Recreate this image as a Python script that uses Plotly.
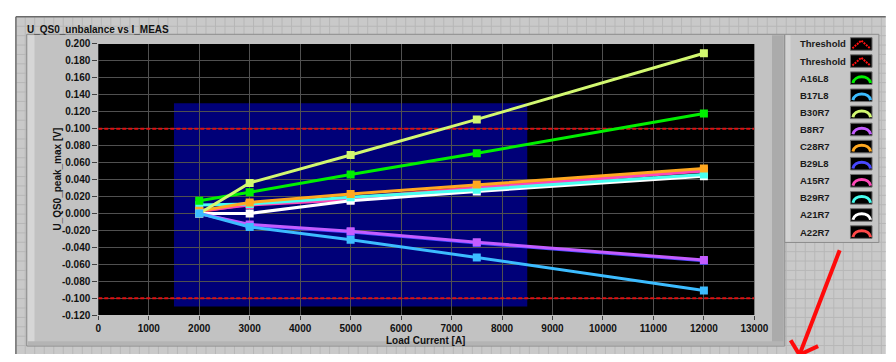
import plotly.graph_objects as go

# page is 896x362; body keeps its default 8px margin, so the figure is 880x346
OFF = 8
W, H = 896 - 2 * OFF, 362 - 2 * OFF

# ---------------- data ----------------
load_current = [2000, 3000, 5000, 7500, 12000]
series_names = ["A16L8", "B17L8", "B30R7", "B8R7", "C28R7", "B29L8", "A15R7", "B29R7", "A21R7", "A22R7"]
A16L8 = [0.015, 0.025, 0.046, 0.071, 0.118]
B17L8 = [0.000, -0.016, -0.031, -0.052, -0.091]
B30R7 = [0.000, 0.036, 0.069, 0.111, 0.189]
B8R7 = [0.000, -0.013, -0.021, -0.034, -0.055]
C28R7 = [0.003, 0.013, 0.023, 0.034, 0.053]
B29L8 = [0.000, -0.014, -0.022, -0.035, -0.056]
A15R7 = [0.003, 0.010, 0.016, 0.030, 0.050]
B29R7 = [0.010, 0.011, 0.019, 0.028, 0.046]
A21R7 = [0.000, 0.000, 0.015, 0.026, 0.044]
A22R7 = [0.002, 0.011, 0.018, 0.031, 0.051]
threshold_x = [0, 13000]
threshold_hi = [0.100, 0.100]
threshold_lo = [-0.100, -0.100]
window_x = [1500, 8500]
window_y = [-0.110, 0.130]
x_ticks = list(range(0, 13001, 1000))
y_ticks = [round(-0.12 + 0.02 * i, 3) for i in range(17)]

values = {"A16L8": A16L8, "B17L8": B17L8, "B30R7": B30R7, "B8R7": B8R7, "C28R7": C28R7,
          "B29L8": B29L8, "A15R7": A15R7, "B29R7": B29R7, "A21R7": A21R7, "A22R7": A22R7}
colors = {"A16L8": "#00f000", "B17L8": "#3cbcff", "B30R7": "#d2f870", "B8R7": "#c45cff",
          "C28R7": "#ffa820", "B29L8": "#4848ff", "A15R7": "#ff48b8", "B29R7": "#48fff0",
          "A21R7": "#ffffff", "A22R7": "#ff4848"}
draw_order = ["A22R7", "B29L8", "A15R7", "A21R7", "B29R7", "C28R7", "B8R7", "A16L8", "B30R7", "B17L8"]

def px(x):
    return (x - OFF) / W

def py(y):
    return 1 - (y - OFF) / H

FONT = "Liberation Sans"
fig = go.Figure()

for name in ["hi", "lo"]:
    fig.add_trace(go.Scatter(x=threshold_x, y=threshold_hi if name == "hi" else threshold_lo,
                             mode="lines", line=dict(color="#e01010", width=2, dash="4px,2px"),
                             showlegend=False, hoverinfo="skip"))

for name in draw_order:
    fig.add_trace(go.Scatter(x=load_current, y=values[name], mode="lines+markers", name=name,
                             line=dict(color=colors[name], width=3),
                             marker=dict(symbol="square", size=8, color=colors[name]),
                             showlegend=False))

shapes = []
# panel background with pattern
shapes.append(dict(type="rect", xref="paper", yref="paper", x0=px(13), x1=px(900), y0=py(366), y1=py(12),
                   fillcolor="#c9c9c9", line=dict(width=0), layer="below"))
gx = 3.1
while gx < 900:
    if gx > 14:
        shapes.append(dict(type="line", xref="paper", yref="paper", x0=px(gx), x1=px(gx), y0=py(366), y1=py(12.5),
                           line=dict(color="#b7b7b7", width=1), layer="below"))
    gx += 9.7
gy = 21.7
while gy < 366:
    shapes.append(dict(type="line", xref="paper", yref="paper", x0=px(13.5), x1=px(900), y0=py(gy), y1=py(gy),
                       line=dict(color="#b7b7b7", width=1), layer="below"))
    gy += 9.7
shapes.append(dict(type="line", xref="paper", yref="paper", x0=px(13), x1=px(900), y0=py(12), y1=py(12),
                   line=dict(color="#6a6a6a", width=1.5), layer="below"))
shapes.append(dict(type="line", xref="paper", yref="paper", x0=px(13), x1=px(13), y0=py(12), y1=py(366),
                   line=dict(color="#6a6a6a", width=1.5), layer="below"))
# graph frame
shapes.append(dict(type="rect", xref="paper", yref="paper", x0=px(24), x1=px(797), y0=py(352), y1=py(30),
                   fillcolor="#c2c2c2", line=dict(color="#8c8c8c", width=1), layer="below"))
shapes.append(dict(type="rect", xref="paper", yref="paper", x0=px(25), x1=px(32), y0=py(351), y1=py(31),
                   fillcolor="#d6d6d6", line=dict(width=0), layer="below"))
shapes.append(dict(type="rect", xref="paper", yref="paper", x0=px(784), x1=px(796), y0=py(351), y1=py(31),
                   fillcolor="#ababab", line=dict(width=0), layer="below"))
shapes.append(dict(type="rect", xref="paper", yref="paper", x0=px(25), x1=px(796), y0=py(351), y1=py(347),
                   fillcolor="#b4b4b4", line=dict(width=0), layer="below"))
# legend box
shapes.append(dict(type="rect", xref="paper", yref="paper", x0=px(797), x1=px(893), y0=py(245), y1=py(30),
                   fillcolor="#c6c6c6", line=dict(color="#8c8c8c", width=1), layer="below"))
shapes.append(dict(type="rect", xref="paper", yref="paper", x0=px(798), x1=px(803), y0=py(244), y1=py(31),
                   fillcolor="#d4d4d4", line=dict(width=0), layer="below"))
# plot background and window
shapes.append(dict(type="rect", xref="x domain", yref="y domain", x0=0, x1=1, y0=0, y1=1,
                   fillcolor="#000000", line=dict(width=0), layer="below"))
shapes.append(dict(type="rect", xref="x", yref="y", x0=window_x[0], x1=window_x[1], y0=window_y[0], y1=window_y[1],
                   fillcolor="#000078", line=dict(width=0), layer="below"))

# custom legend
annotations = []
legend_entries = ["Threshold", "Threshold"] + series_names
for i, name in enumerate(legend_entries):
    cy = 40 + i * 17.66
    annotations.append(dict(x=px(810), y=py(cy), xref="paper", yref="paper", text=name, showarrow=False,
                            xanchor="left", yanchor="middle",
                            font=dict(family=FONT, size=9.5, color="#1a1a1a", weight="bold")))
    shapes.append(dict(type="rect", xref="paper", yref="paper", x0=px(864), x1=px(886), y0=py(cy + 6.5), y1=py(cy - 6.5),
                       fillcolor="#000000", line=dict(color="#6c6c6c", width=1), layer="above"))
    if name == "Threshold":
        path = "M {} {} L {} {} L {} {}".format(px(866), py(cy + 4.5), px(875), py(cy - 3.5), px(884), py(cy + 4.5))
        shapes.append(dict(type="path", xref="paper", yref="paper", path=path,
                           line=dict(color="#ff1010", width=2, dash="2px,1px"), layer="above"))
    else:
        path = "M {} {} C {} {} {} {} {} {}".format(px(866.5), py(cy + 5), px(868), py(cy - 3.5),
                                                    px(883), py(cy - 3.5), px(884.5), py(cy + 5))
        shapes.append(dict(type="path", xref="paper", yref="paper", path=path,
                           line=dict(color=colors[name], width=3), layer="above"))

# red arrow
for (x0, y0, x1, y1) in [(853, 253, 812, 361), (812, 361, 803, 346), (812, 361, 831, 352)]:
    shapes.append(dict(type="line", xref="paper", yref="paper", x0=px(x0), y0=py(y0), x1=px(x1), y1=py(y1),
                       line=dict(color="#ff0a0a", width=4), layer="above"))

annotations.append(dict(x=px(22), y=py(25), xref="paper", yref="paper", text="U_QS0_unbalance vs I_MEAS",
                        showarrow=False, xanchor="left", yanchor="middle",
                        font=dict(family=FONT, size=10, color="#111111", weight="bold")))
annotations.append(dict(x=px(431), y=py(346), xref="paper", yref="paper", text="Load Current [A]",
                        showarrow=False, xanchor="center", yanchor="middle",
                        font=dict(family=FONT, size=10, color="#111111", weight="bold")))
annotations.append(dict(x=px(55), y=py(180), xref="paper", yref="paper", text="U_QS0_peak_max [V]",
                        showarrow=False, xanchor="center", yanchor="middle", textangle=-90,
                        font=dict(family=FONT, size=10, color="#111111", weight="bold")))

fig.update_layout(
    width=W, height=H, margin=dict(l=0, r=0, t=0, b=0),
    paper_bgcolor="rgba(0,0,0,0)", plot_bgcolor="#000000",
    showlegend=False, shapes=shapes, annotations=annotations,
    xaxis=dict(domain=[px(97), px(766)], range=[0, 13000], tickvals=x_ticks,
               ticktext=[str(v) for v in x_ticks], ticks="outside", ticklen=4, tickcolor="#404040",
               showgrid=True, gridcolor="#505050", gridwidth=1, zeroline=False, showline=False,
               tickfont=dict(family=FONT, size=10, color="#111111", weight="bold")),
    yaxis=dict(domain=[py(320), py(40)], range=[-0.12, 0.2], tickvals=y_ticks,
               ticktext=["{:.3f}".format(v) for v in y_ticks], ticks="outside", ticklen=5, tickcolor="#404040",
               showgrid=True, gridcolor="#505050", gridwidth=1, zeroline=False, showline=False,
               tickfont=dict(family=FONT, size=10, color="#111111", weight="bold")),
)

fig.write_html("out.html", config={"displayModeBar": False})
